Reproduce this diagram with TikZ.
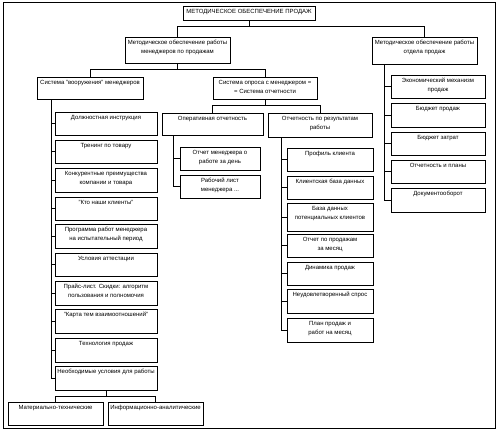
\documentclass[tikz,border=0pt]{standalone}
\usepackage{fontspec}
\setmainfont{Liberation Sans}
\tikzset{
  box/.style={draw=black, line width=0.7pt, inner sep=0pt, fill=white},
  con/.style={draw=black, line width=0.7pt},
  every node/.style={font=\fontsize{6}{8.6}\selectfont}
}
\newcommand{\bx}[6]{%
  \node[box, minimum width={#4pt-#2pt}, minimum height={#5pt-#3pt}] (#1) at ({(#2+#4)/2},{(#3+#5)/2})
  {\parbox[c][\dimexpr#5pt-#3pt-3pt\relax][t]{\dimexpr#4pt-#2pt-4pt\relax}{\centering\rule{0pt}{6.3pt}#6}};}
\begin{document}
\begin{tikzpicture}[x=1pt,y=-1pt]
\useasboundingbox (0,0) rectangle (498,431);
\fill[white] (0,0) rectangle (498,431);
\draw[line width=0.7pt] (3,2) rectangle (495,428);
% level 1-2
\bx{title}{183}{6}{315}{20}{МЕТОДИЧЕСКОЕ ОБЕСПЕЧЕНИЕ ПРОДАЖ}
\bx{m1}{125}{37}{230}{63}{Методическое обеспечение работы\\ менеджеров по продажам}
\bx{m2}{372}{37}{477}{64}{Методическое обеспечение работы\\ отдела продаж}
% level 3
\bx{sv}{37}{77}{143}{99}{Система "вооружения" менеджеров}
\bx{so}{213}{77}{317}{99}{Система опроса с менеджером =\\ = Система отчетности}
% left column
\bx{a1}{55}{112}{157}{135}{Должностная инструкция}
\bx{a2}{55}{140}{157}{163}{Тренинг по товару}
\bx{a3}{55}{168}{157}{192}{Конкурентные преимущества\\ компании и товара}
\bx{a4}{55}{197}{157}{220}{"Кто наши клиенты"}
\bx{a5}{55}{224}{157}{248}{Программа работ менеджера\\ на испытательный период}
\bx{a6}{55}{253}{157}{276}{Условия аттестации}
\bx{a7}{55}{281}{157}{305}{Прайс-лист. Скидки: алгоритм\\ пользования и полномочия}
\bx{a8}{55}{309}{157}{333}{"Карта тем взаимоотношений"}
\bx{a9}{55}{338}{157}{362}{Технология продаж}
\bx{a10}{55}{366}{157}{390}{Необходимые условия для работы}
\bx{b1}{8}{402}{103}{425}{Материально-технические}
\bx{b2}{108}{402}{203}{425}{Информационно-аналитические}
% middle
\bx{op}{162}{113}{263}{135}{Оперативная отчетность}
\bx{ot}{268}{113}{372}{137}{Отчетность по результатам\\ работы}
\bx{o1}{180}{147}{260}{170}{Отчет менеджера о\\ работе за день}
\bx{o2}{180}{175}{260}{198}{Рабочий лист\\ менеджера ...}
\bx{r1}{287}{148}{373}{171}{Профиль клиента}
\bx{r2}{287}{176}{373}{199}{Клиентская база данных}
\bx{r3}{287}{203}{373}{231}{База данных\\ потенциальных клиентов}
\bx{r4}{287}{234}{373}{257}{Отчет по продажам\\ за месяц}
\bx{r5}{287}{262}{373}{285}{Динамика продаж}
\bx{r6}{287}{289}{373}{313}{Неудовлетворенный спрос}
\bx{r7}{287}{318}{373}{342}{План продаж и\\ работ на месяц}
% right column
\bx{e1}{391}{75}{485}{98}{Экономический механизм\\ продаж}
\bx{e2}{391}{103}{485}{127}{Бюджет продаж}
\bx{e3}{391}{132}{485}{155}{Бюджет затрат}
\bx{e4}{391}{160}{485}{183}{Отчетность и планы}
\bx{e5}{391}{188}{485}{212}{Документооборот}
% connectors
\draw[con] (title.south) -- ++(0,6) coordinate (j0);
\draw[con] (m1.north) |- (j0) -| (m2.north);
\draw[con] (m1.south) -- ++(0,6) coordinate (j1);
\draw[con] (sv.north) |- (j1) -| (so.north);
\draw[con] (so.south) -- ++(0,6) coordinate (j2);
\draw[con] (op.north) |- (j2) -| (ot.north);
\draw[con] (a10.south) -- ++(0,6) coordinate (j3);
\draw[con] (b1.north) |- (j3) -| (b2.north);
\foreach \c in {a1,a2,a3,a4,a5,a6,a7,a8,a9,a10}
  \draw[con] ([xshift=15pt]sv.south west) |- (\c.west);
\foreach \c in {o1,o2}
  \draw[con] ([xshift=12pt]op.south west) |- (\c.west);
\foreach \c in {r1,r2,r3,r4,r5,r6,r7}
  \draw[con] ([xshift=14pt]ot.south west) |- (\c.west);
\foreach \c in {e1,e2,e3,e4,e5}
  \draw[con] ([xshift=13pt]m2.south west) |- (\c.west);
\end{tikzpicture}
\end{document}
